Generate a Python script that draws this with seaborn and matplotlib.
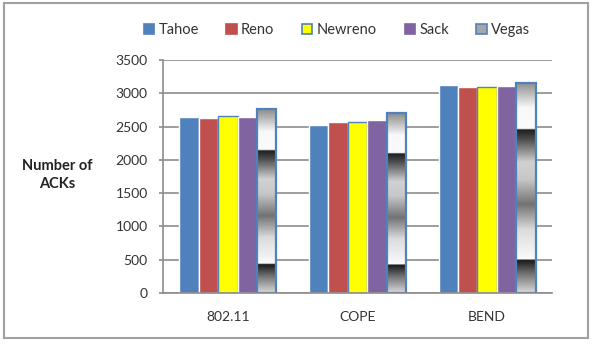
import numpy as np
import pandas as pd
import matplotlib
matplotlib.use("Agg")
import matplotlib.pyplot as plt
import matplotlib.patches as mpatches
import seaborn as sns

# values
scenarios = ["802.11", "COPE", "BEND"]
protocols = ["Tahoe", "Reno", "Newreno", "Sack", "Vegas"]
tahoe = [2650, 2530, 3120]
reno = [2635, 2570, 3100]
newreno = [2660, 2570, 3095]
sack = [2650, 2600, 3115]
vegas = [2760, 2700, 3160]
y_ticks = [0, 500, 1000, 1500, 2000, 2500, 3000, 3500]

colors = ["#4F81BD", "#C0504D", "#FFFF00", "#8064A2", "#A6A6A6"]
edge_blue = "#4F81BD"

df = pd.DataFrame({
    "scenario": scenarios * 5,
    "protocol": np.repeat(protocols, 3),
    "acks": tahoe + reno + newreno + sack + vegas,
})

sns.set_style("white")
plt.rcParams["font.family"] = ["Lato", "DejaVu Sans"]

fig = plt.figure(figsize=(5.98, 3.5), dpi=100)
ax = fig.add_axes([163 / 598, 1 - 293 / 350, (552 - 163) / 598, (293 - 60) / 350])

sns.barplot(data=df, x="scenario", y="acks", hue="protocol", order=scenarios,
            hue_order=protocols, palette=colors, saturation=1, width=0.75,
            legend=False, ax=ax)

# chrome-like gradient for the Vegas bars (fraction from top -> grey level)
stops = [0.0, 0.12, 0.22, 0.225, 0.27, 0.38, 0.46, 0.58, 0.70, 0.84, 0.845, 0.91, 1.0]
levels = [0.55, 0.97, 0.98, 0.12, 0.30, 0.82, 0.78, 0.45, 0.86, 0.98, 0.10, 0.45, 0.85]
grad = np.interp(np.linspace(0, 1, 300), stops, levels).reshape(-1, 1)

for patch in ax.containers[2]:
    patch.set_edgecolor(edge_blue)
    patch.set_linewidth(1.0)

for patch in ax.containers[4]:
    x0 = patch.get_x()
    w = patch.get_width()
    h = patch.get_height()
    im = ax.imshow(grad, extent=(x0, x0 + w, 0, h), origin="upper", aspect="auto",
                   cmap="gray", vmin=0, vmax=1, zorder=1.5, interpolation="bilinear")
    im.set_clip_path(patch)
    patch.set_facecolor("none")
    patch.set_edgecolor(edge_blue)
    patch.set_linewidth(1.6)
    patch.set_zorder(2)

ax.set_xlim(-0.5, 2.5)
ax.set_ylim(0, 3500)
ax.set_yticks(y_ticks)
ax.set_xticks([-0.5, 0.5, 1.5, 2.5], minor=True)
ax.set_xlabel("")
ax.set_ylabel("")

ax.set_axisbelow(True)
ax.yaxis.grid(True, color="#8C8C8C", linewidth=1.2)
for side in ["top", "right"]:
    ax.spines[side].set_visible(False)
for side in ["left", "bottom"]:
    ax.spines[side].set_color("#8C8C8C")
    ax.spines[side].set_linewidth(1.2)

ax.tick_params(axis="y", which="major", length=3, width=1.2, color="#8C8C8C",
               direction="out", pad=8, labelsize=10, labelcolor="#333333")
ax.tick_params(axis="x", which="major", length=0, pad=13, labelsize=10,
               labelcolor="#333333")
ax.tick_params(axis="x", which="minor", length=5, width=1.2, color="#8C8C8C",
               direction="out")
ax.tick_params(left=True, bottom=True)

fig.text(57 / 598, 1 - 175 / 350, "Number of\nACKs", ha="center", va="center",
         fontsize=10.5, fontweight="bold", color="#222222", linespacing=1.3)

handles = []
for name, c in zip(protocols, colors):
    ec = edge_blue if name in ("Newreno", "Vegas") else c
    handles.append(mpatches.Patch(facecolor=c, edgecolor=ec, linewidth=1.2, label=name))
fig.legend(handles=handles, loc="center", bbox_to_anchor=(337 / 598, 1 - 30 / 350),
           ncol=5, frameon=False, handlelength=0.7, handleheight=0.7,
           handletextpad=0.3, columnspacing=1.9, fontsize=10.5, labelcolor="#333333")

# chart-area frame
fig.patches.append(mpatches.Rectangle((4 / 598, 1 - 338 / 350), 584 / 598, 335 / 350,
                                      transform=fig.transFigure, fill=False,
                                      edgecolor="#A0A0A0", linewidth=1.5))

fig.savefig("out.png", dpi=100)
